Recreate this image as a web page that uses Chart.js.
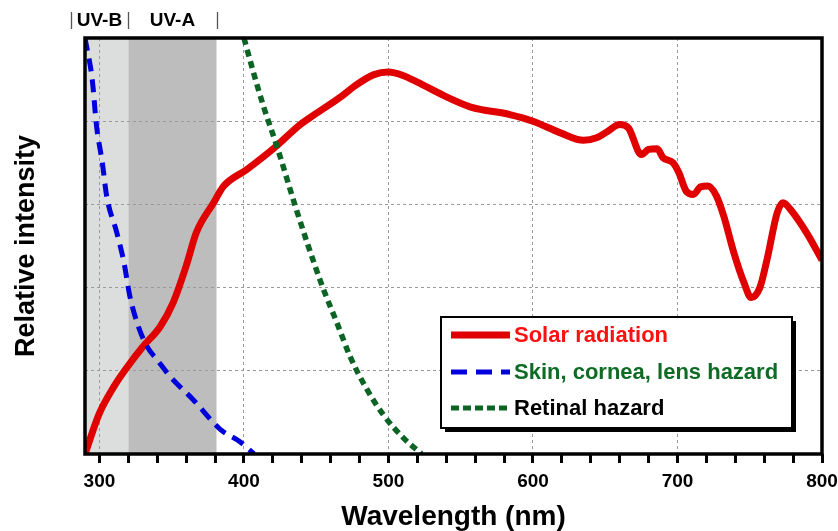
<!DOCTYPE html>
<html><head><meta charset="utf-8">
<script src="https://cdn.jsdelivr.net/npm/chart.js@4/dist/chart.umd.min.js"></script>
<style>html,body{margin:0;padding:0;background:#fff;}canvas{display:block;}</style>
</head><body>
<canvas id="c" width="838" height="531"></canvas>
<script>
// ---- data ----
const solarNm  = [290, 300, 310, 319, 330, 342, 351, 360, 367, 379, 386, 402, 421, 439, 448, 466, 478, 490, 500, 510, 520, 538, 557, 584, 600, 619, 635, 644, 651, 660, 666, 675, 680, 686, 690, 697, 701, 706, 711, 716, 721, 727, 732, 739, 746, 751, 757, 762, 769, 773, 779, 790, 800];
const solarVal = [0.0, 0.49, 0.81, 1.04, 1.29, 1.53, 1.82, 2.26, 2.66, 3.02, 3.22, 3.42, 3.68, 3.96, 4.07, 4.28, 4.44, 4.56, 4.59, 4.55, 4.47, 4.31, 4.17, 4.08, 4.00, 3.86, 3.77, 3.80, 3.87, 3.96, 3.92, 3.60, 3.66, 3.67, 3.56, 3.50, 3.38, 3.16, 3.12, 3.21, 3.22, 3.10, 2.86, 2.42, 2.06, 1.88, 2.00, 2.34, 2.90, 3.02, 2.92, 2.64, 2.33];

const skinNm  = [290, 295, 298, 302, 305, 312, 317, 321, 327, 333, 340, 349, 365, 384, 397, 407];
const skinVal = [5.0, 4.5, 3.94, 3.5, 3.1, 2.66, 2.3, 1.9, 1.53, 1.29, 1.13, 0.93, 0.65, 0.29, 0.15, 0.0];

const retinalNm  = [400, 406.5, 413.5, 423.5, 435.5, 444.5, 455, 464.5, 473.5, 484, 496.5, 510.5, 523];
const retinalVal = [5.0, 4.59, 4.18, 3.66, 2.98, 2.50, 1.98, 1.57, 1.17, 0.81, 0.47, 0.19, 0.0];

const xTickValues  = [300, 320, 340, 360, 380, 400, 420, 440, 460, 480, 500, 520, 540, 560, 580, 600, 620, 640, 660, 680, 700, 720, 740, 760, 780, 800];
const xLabelValues = [300, 400, 500, 600, 700, 800];
const xGridValues  = [300, 400, 500, 600, 700];
const yGridValues  = [1, 2, 3, 4];

const bandNames  = ['UV-B', 'UV-A'];
const bandBounds = [280, 320, 381];   // label brackets (nm)
const shadeUVB   = [290, 320];
const shadeUVA   = [320, 381];

const seriesNames = ['Solar radiation', 'Skin, cornea, lens hazard', 'Retinal hazard'];
const xTitle = 'Wavelength (nm)';
const yTitle = 'Relative intensity';

// ---- styles ----
const RED = '#e00000', BLUE = '#0000dd', GREEN = '#0b6424';
const FONT = '"Liberation Sans", Arial, Helvetica, sans-serif';
Chart.defaults.font.family = FONT;

const toPts = (xs, ys) => xs.map((x, i) => ({x: x, y: ys[i]}));

const bgPlugin = {
  id: 'bands',
  beforeDraw(chart) {
    const {ctx, chartArea: a, scales: {x}} = chart;
    ctx.save();
    ctx.fillStyle = '#dcdddd';
    ctx.fillRect(x.getPixelForValue(shadeUVB[0]), a.top, x.getPixelForValue(shadeUVB[1]) - x.getPixelForValue(shadeUVB[0]), a.bottom - a.top);
    ctx.fillStyle = '#bdbdbd';
    ctx.fillRect(x.getPixelForValue(shadeUVA[0]), a.top, x.getPixelForValue(shadeUVA[1]) - x.getPixelForValue(shadeUVA[0]), a.bottom - a.top);
    ctx.restore();
  },
  afterDatasetsDraw(chart) {
    const {ctx, chartArea: a} = chart;
    ctx.save();
    ctx.strokeStyle = '#000';
    ctx.lineWidth = 3.5;
    ctx.strokeRect(a.left, a.top, a.right - a.left, a.bottom - a.top);
    ctx.restore();
  },
  afterDraw(chart) {
    const {ctx, scales: {x}} = chart;
    ctx.save();
    // band brackets and labels above plot
    const px = bandBounds.map(v => x.getPixelForValue(v));
    ctx.strokeStyle = '#555';
    ctx.lineWidth = 1.3;
    px.forEach(p => { ctx.beginPath(); ctx.moveTo(Math.round(p) + 0.5, 12); ctx.lineTo(Math.round(p) + 0.5, 29); ctx.stroke(); });
    ctx.fillStyle = '#000';
    ctx.font = 'bold 19px ' + FONT;
    ctx.textAlign = 'center';
    ctx.textBaseline = 'middle';
    bandNames.forEach((n, i) => ctx.fillText(n, (px[i] + px[i + 1]) / 2, 21));

    // legend box
    const L = 441, T = 317, W = 351, H = 111;
    ctx.fillStyle = '#000';
    ctx.fillRect(L + 4, T + 4, W, H);
    ctx.fillStyle = '#fff';
    ctx.fillRect(L, T, W, H);
    ctx.strokeStyle = '#000';
    ctx.lineWidth = 2;
    ctx.strokeRect(L, T, W, H);
    const rows = [335, 372, 408];
    const lineCols = [RED, BLUE, GREEN];
    const lineW = [7, 5, 5];
    const dashes = [[], [16, 9], [8, 4]];
    const textCols = ['#ff1010', '#0d6b24', '#000'];
    ctx.font = 'bold 22px ' + FONT;
    ctx.textAlign = 'left';
    ctx.textBaseline = 'middle';
    rows.forEach((y, i) => {
      ctx.beginPath();
      ctx.strokeStyle = lineCols[i];
      ctx.lineWidth = lineW[i];
      ctx.setLineDash(dashes[i]);
      ctx.moveTo(451, y);
      ctx.lineTo(510, y);
      ctx.stroke();
      ctx.setLineDash([]);
      ctx.fillStyle = textCols[i];
      ctx.fillText(seriesNames[i], 514, y + 1);
    });
    ctx.restore();
  }
};

new Chart(document.getElementById('c'), {
  type: 'line',
  data: {
    datasets: [
      {label: seriesNames[0], data: toPts(solarNm, solarVal), borderColor: RED, borderWidth: 7, order: 3,
       pointRadius: 0, cubicInterpolationMode: 'monotone', borderJoinStyle: 'round', fill: false},
      {label: seriesNames[1], data: toPts(skinNm, skinVal), borderColor: BLUE, borderWidth: 5, borderDash: [13, 8], order: 2,
       pointRadius: 0, cubicInterpolationMode: 'monotone', fill: false},
      {label: seriesNames[2], data: toPts(retinalNm, retinalVal), borderColor: GREEN, borderWidth: 5.5, borderDash: [7, 5], order: 1,
       pointRadius: 0, cubicInterpolationMode: 'monotone', fill: false}
    ]
  },
  options: {
    responsive: false,
    animation: false,
    devicePixelRatio: 1,
    layout: {padding: {top: 38, right: 16, bottom: 0, left: 0}},
    plugins: {legend: {display: false}, tooltip: {enabled: false}},
    scales: {
      x: {
        type: 'linear', position: 'bottom', min: 290, max: 800,
        afterBuildTicks: s => { s.ticks = xTickValues.map(v => ({value: v})); },
        afterFit: s => { s.height = 77; s.paddingLeft = 0; s.paddingRight = 0; },
        ticks: {
          autoSkip: false, maxRotation: 0, minRotation: 0, padding: 7, color: '#000',
          font: {size: 19, weight: 'bold'},
          callback: v => xLabelValues.includes(v) ? String(v) : ''
        },
        grid: {
          color: c => (c.tick && xGridValues.includes(c.tick.value)) ? '#9a9a9a' : 'rgba(0,0,0,0)',
          lineWidth: 1, drawTicks: true, tickLength: 9, tickWidth: 3, tickColor: '#000'
        },
        border: {display: false, dash: [3, 3]},
        title: {display: true, text: xTitle, color: '#000', font: {size: 28, weight: 'bold'}, padding: {top: 0, bottom: -3}}
      },
      y: {
        type: 'linear', position: 'left', min: 0, max: 5,
        afterBuildTicks: s => { s.ticks = [0, 1, 2, 3, 4, 5].map(v => ({value: v})); },
        afterFit: s => { s.width = 85; s.paddingTop = 0; s.paddingBottom = 0; },
        ticks: {display: false},
        grid: {
          color: c => (c.tick && yGridValues.includes(c.tick.value)) ? '#9a9a9a' : 'rgba(0,0,0,0)',
          lineWidth: 1, drawTicks: false
        },
        border: {display: false, dash: [3, 3]},
        title: {display: true, text: yTitle, color: '#000', font: {size: 27, weight: 'bold'}, padding: {top: 10, bottom: 0}}
      }
    }
  },
  plugins: [bgPlugin]
});
</script>
</body></html>
